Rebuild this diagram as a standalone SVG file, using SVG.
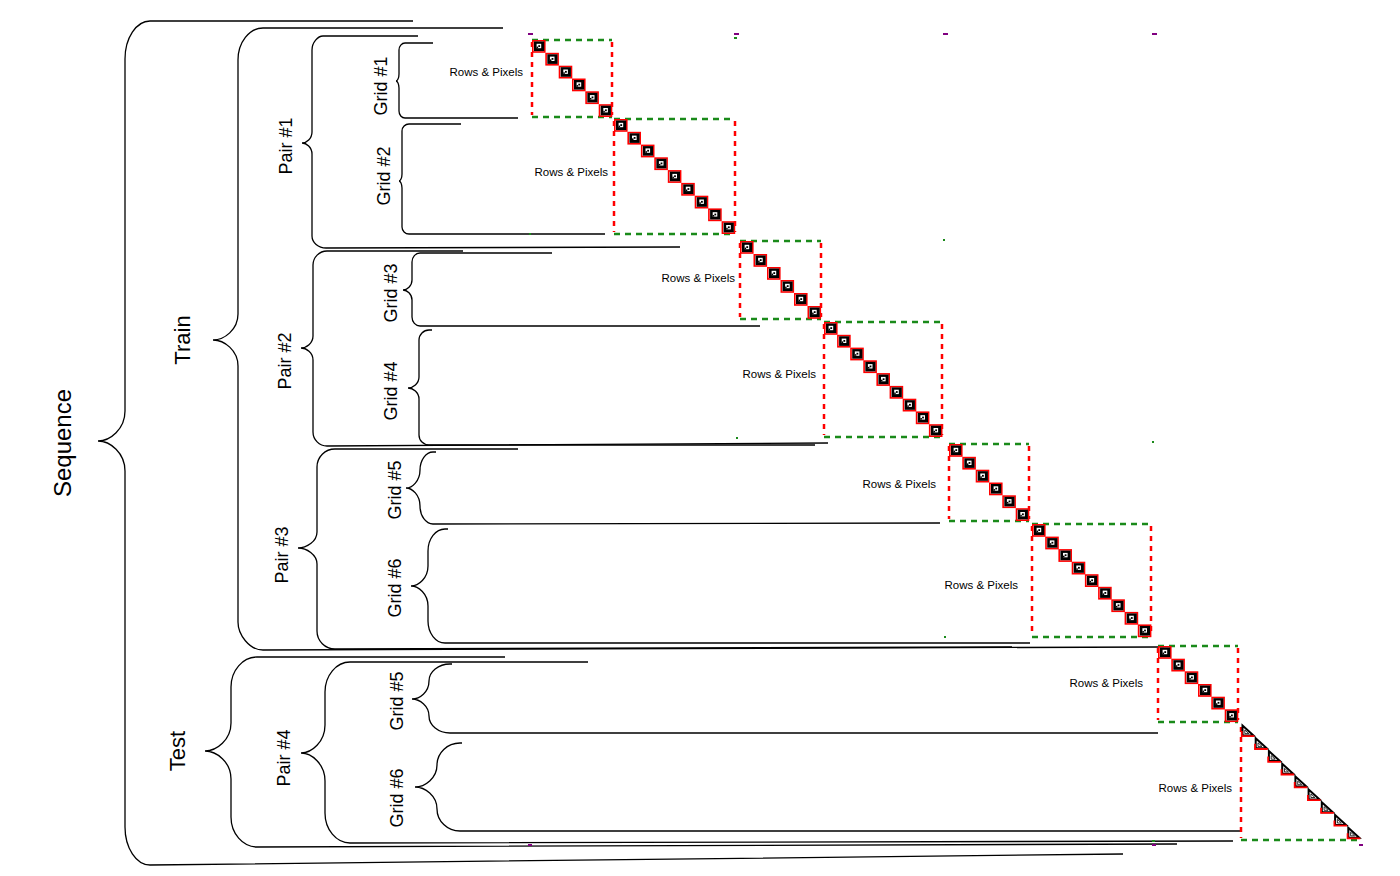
<svg xmlns="http://www.w3.org/2000/svg" xmlns:xlink="http://www.w3.org/1999/xlink" width="1400" height="876" viewBox="0 0 1400 876">
<style>
.br{fill:none;stroke:#000;stroke-width:1.3}
.lab{font-family:"Liberation Sans",Arial,sans-serif;fill:#000;text-anchor:middle}
.rp{font-family:"Liberation Sans",Arial,sans-serif;font-size:11.5px;fill:#000;text-anchor:end}
.gd{stroke:#1a8a1a;stroke-width:2.5;stroke-dasharray:6 5;fill:none}
.rd{stroke:#f00;stroke-width:2.5;stroke-dasharray:5 5;fill:none}
.pm{fill:#800080}
.gm{fill:#1a8a1a}
</style>
<defs>
<g id="c">
<rect x="0.8" y="0.8" width="12" height="11.2" fill="none" stroke="#f00" stroke-width="1.6"/>
<rect x="2" y="1.5" width="10.2" height="9.6" fill="#000"/>
<rect x="4.6" y="3.8" width="4.6" height="4.4" fill="#fff"/>
<rect x="6.3" y="5.2" width="1.8" height="1.8" fill="#000"/>
<rect x="4.6" y="6.6" width="1.5" height="1.6" fill="#000"/>
</g>
<g id="t">
<polygon points="1.5,0.5 1.5,10.5 12.5,10.5" fill="#fff" stroke="#000" stroke-width="2"/>
<polygon points="3.8,5 3.8,8.6 7.8,8.6" fill="#fff" stroke="#000" stroke-width="0.8"/>
<path d="M0.8 6 L0.8 11.2 L13.5 11.2" fill="none" stroke="#f00" stroke-width="1.8"/>
</g>
</defs>
<rect width="1400" height="876" fill="#fff"/>

<g id="connectors">
<path id="b-seq" class="br" d="M413,21 L150,21 C136.25,21 125,38.1 125,59 L125,411 C125,429 110.2,441 98,441 C110.2,441 125,453 125,471 L125,827 C125,847.9 136.25,865 150,865 L1123,854"/>
<path id="b-train" class="br" d="M503,28 L263,28 C249.25,28 238,42.4 238,60 L238,314 C238,329.6 224.25,340 213,340 C224.25,340 238,350.4 238,366 L238,622 C238,634.6 249.25,650 263,650 L1158,647"/>
<path id="b-p1" class="br" d="M418,36 L323,36 C317.95,36 312,42.3 312,50 L312,132 C312,138.6 306.5,143 302,143 C306.5,143 312,147.4 312,154 L312,236 C312,242.6 318.3,248 326,248 L680,247"/>
<path id="b-g1" class="br" d="M433,43 L405,43 C401.7,43 399,46.2 399,50 L399,74 C399,78.2 397.35,81 396,81 C397.35,81 399,83.8 399,88 L399,111 C399,114.9 401.7,118 405,118 L518,118"/>
<path id="b-g2" class="br" d="M461,124 L409,124 C405.2,124 402,127.2 402,131 L402,174 C402,178.2 400.35,181 399,181 C400.35,181 402,183.8 402,188 L402,227 C402,230.9 405.2,234 409,234 L605,234"/>
<path id="b-p2" class="br" d="M463,251 L327,251 C319.3,251 313,257.3 313,265 L313,336 C313,343.2 306.4,348 301,348 C306.4,348 313,352.8 313,360 L313,432 C313,439.7 319.3,446 327,446 L828,443"/>
<path id="b-g3" class="br" d="M552,253 L420,253 C415.6,253 412,257 412,262 L412,280 C412,286 407,290 403,290 C407,290 412,294 412,300 L412,317 C412,322 415.6,326 420,326 L760,326"/>
<path id="b-g4" class="br" d="M432,330 L429,330 C423.5,330 419,334.5 419,340 L419,377 C419,383.6 413,388 408,388 C413,388 419,392.4 419,399 L419,435 C419,440.5 423.5,445 429,445 L815,445"/>
<path id="b-p3" class="br" d="M518,449 L335,449 C325.1,449 317,457.1 317,467 L317,532 C317,541.6 306.55,548 298,548 C306.55,548 317,554.4 317,564 L317,631 C317,640.9 325.1,649 335,649 L1012,647"/>
<path id="b-g5" class="br" d="M436,452 L433,452 C425.85,452 420,460.1 420,470 C420,480.8 412.3,488 406,488 C412.3,488 420,495.2 420,506 C420,515.9 425.85,524 433,524 L940,523"/>
<path id="b-g6" class="br" d="M448,529 L445,529 C435.65,529 428,538.9 428,551 L428,566 C428,578 418.65,586 411,586 C418.65,586 428,594 428,606 L428,621 C428,633.1 435.65,643 445,643 L1030,643"/>
<path id="b-test" class="br" d="M505,657 L257,657 C242.7,657 231,670.5 231,687 L231,723 C231,739.8 216.7,751 205,751 C216.7,751 231,762.2 231,779 L231,817 C231,833.5 242.7,847 257,847 L1177,844"/>
<path id="b-p4" class="br" d="M588,662 L350,662 C336.25,662 325,675.5 325,692 L325,725 C325,741.8 311.8,753 301,753 C311.8,753 325,764.2 325,781 L325,813 C325,829.5 336.25,843 350,843 L1233,841"/>
<path id="b-tg5" class="br" d="M452,664 L450,664 C438.45,664 429,671.65 429,681 C429,692.2 419.65,699 412,699 C419.65,699 429,705.8 429,716 C429,725.35 438.45,733 450,733 L1158,733"/>
<path id="b-tg6" class="br" d="M462,743 L460,743 C447.35,743 437,752.9 437,765 C437,778.2 424.9,787 415,787 C424.9,787 437,795.8 437,809 C437,821.1 447.35,831 460,831 L1240,831"/>
</g>

<g id="labels">
<text class="lab" font-size="24" transform="translate(71,443) rotate(-90)">Sequence</text>
<text class="lab" font-size="22" transform="translate(190,340) rotate(-90)">Train</text>
<text class="lab" font-size="22" transform="translate(185,751) rotate(-90)">Test</text>
<text class="lab" font-size="18" transform="translate(292,146) rotate(-90)">Pair #1</text>
<text class="lab" font-size="18" transform="translate(291,361) rotate(-90)">Pair #2</text>
<text class="lab" font-size="18" transform="translate(288,555) rotate(-90)">Pair #3</text>
<text class="lab" font-size="18" transform="translate(290,758) rotate(-90)">Pair #4</text>
<text class="lab" font-size="18" transform="translate(387,86) rotate(-90)">Grid #1</text>
<text class="lab" font-size="18" transform="translate(390,176) rotate(-90)">Grid #2</text>
<text class="lab" font-size="18" transform="translate(397,293) rotate(-90)">Grid #3</text>
<text class="lab" font-size="18" transform="translate(397,391) rotate(-90)">Grid #4</text>
<text class="lab" font-size="18" transform="translate(401,490) rotate(-90)">Grid #5</text>
<text class="lab" font-size="18" transform="translate(401,588) rotate(-90)">Grid #6</text>
<text class="lab" font-size="18" transform="translate(403,701) rotate(-90)">Grid #5</text>
<text class="lab" font-size="18" transform="translate(403,798) rotate(-90)">Grid #6</text>
</g>

<g id="marks">
<rect class="pm" x="528" y="33" width="5" height="2"/>
<rect class="pm" x="734" y="33" width="5" height="2"/>
<rect class="pm" x="943" y="33" width="5" height="2"/>
<rect class="pm" x="1152" y="33" width="5" height="2"/>
<rect class="pm" x="528" y="844" width="4" height="2"/>
<rect class="pm" x="1152" y="844" width="4" height="2"/>
<rect class="pm" x="1359" y="844" width="4" height="2"/>
<rect class="gm" x="734" y="37" width="3" height="2"/>
<rect class="gm" x="943" y="239" width="2" height="2"/>
<rect class="gm" x="736" y="437" width="2" height="2"/>
<rect class="gm" x="1152" y="441" width="2" height="2"/>
<rect class="gm" x="944" y="636" width="2" height="2"/>
<rect class="gm" x="529" y="233" width="2" height="2"/>
<rect class="gm" x="1152" y="840" width="3" height="2"/>
</g>

<g id="grid1">
<path class="gd" d="M532,40 H612 M532,117 H612"/>
<path class="rd" d="M532,42 V115 M612,42 V115"/>
<use href="#c" x="532" y="40"/><use href="#c" x="545.3" y="52.8"/><use href="#c" x="558.7" y="65.7"/><use href="#c" x="572" y="78.5"/><use href="#c" x="585.3" y="91.3"/><use href="#c" x="598.7" y="104.2"/>
<text class="rp" x="523" y="76">Rows &amp; Pixels</text>
</g>
<g id="grid2">
<path class="gd" d="M614,119 H735 M614,234 H735"/>
<path class="rd" d="M614,121 V232 M735,121 V232"/>
<use href="#c" x="614" y="119"/><use href="#c" x="627.4" y="131.8"/><use href="#c" x="640.9" y="144.6"/><use href="#c" x="654.3" y="157.3"/><use href="#c" x="667.8" y="170.1"/><use href="#c" x="681.2" y="182.9"/><use href="#c" x="694.7" y="195.7"/><use href="#c" x="708.1" y="208.4"/><use href="#c" x="721.6" y="221.2"/>
<text class="rp" x="608" y="176">Rows &amp; Pixels</text>
</g>
<g id="grid3">
<path class="gd" d="M740,241 H821 M740,319 H821"/>
<path class="rd" d="M740,243 V317 M821,243 V317"/>
<use href="#c" x="740" y="241"/><use href="#c" x="753.5" y="254"/><use href="#c" x="767" y="267"/><use href="#c" x="780.5" y="280"/><use href="#c" x="794" y="293"/><use href="#c" x="807.5" y="306"/>
<text class="rp" x="735" y="282">Rows &amp; Pixels</text>
</g>
<g id="grid4">
<path class="gd" d="M824,322 H942 M824,437 H942"/>
<path class="rd" d="M824,324 V435 M942,324 V435"/>
<use href="#c" x="824" y="322"/><use href="#c" x="837.1" y="334.8"/><use href="#c" x="850.2" y="347.6"/><use href="#c" x="863.3" y="360.3"/><use href="#c" x="876.4" y="373.1"/><use href="#c" x="889.6" y="385.9"/><use href="#c" x="902.7" y="398.7"/><use href="#c" x="915.8" y="411.4"/><use href="#c" x="928.9" y="424.2"/>
<text class="rp" x="816" y="378">Rows &amp; Pixels</text>
</g>
<g id="grid5">
<path class="gd" d="M949,444 H1029 M949,521 H1029"/>
<path class="rd" d="M949,446 V519 M1029,446 V519"/>
<use href="#c" x="949" y="444"/><use href="#c" x="962.3" y="456.8"/><use href="#c" x="975.7" y="469.7"/><use href="#c" x="989" y="482.5"/><use href="#c" x="1002.3" y="495.3"/><use href="#c" x="1015.7" y="508.2"/>
<text class="rp" x="936" y="488">Rows &amp; Pixels</text>
</g>
<g id="grid6">
<path class="gd" d="M1032,524 H1151 M1032,637 H1151"/>
<path class="rd" d="M1032,526 V635 M1151,526 V635"/>
<use href="#c" x="1032" y="524"/><use href="#c" x="1045.2" y="536.6"/><use href="#c" x="1058.4" y="549.1"/><use href="#c" x="1071.7" y="561.7"/><use href="#c" x="1084.9" y="574.2"/><use href="#c" x="1098.1" y="586.8"/><use href="#c" x="1111.3" y="599.3"/><use href="#c" x="1124.6" y="611.9"/><use href="#c" x="1137.8" y="624.4"/>
<text class="rp" x="1018" y="589">Rows &amp; Pixels</text>
</g>
<g id="grid7">
<path class="gd" d="M1158,646 H1238 M1158,722 H1238"/>
<path class="rd" d="M1158,648 V720 M1238,648 V720"/>
<use href="#c" x="1158" y="646"/><use href="#c" x="1171.3" y="658.7"/><use href="#c" x="1184.7" y="671.3"/><use href="#c" x="1198" y="684"/><use href="#c" x="1211.3" y="696.7"/><use href="#c" x="1224.7" y="709.3"/>
<text class="rp" x="1143" y="687">Rows &amp; Pixels</text>
</g>
<g id="grid8">
<path class="gd" d="M1241,840 H1360"/>
<path class="rd" d="M1241,727 V838"/>
<use href="#t" x="1241" y="725"/><use href="#t" x="1254.2" y="737.8"/><use href="#t" x="1267.4" y="750.6"/><use href="#t" x="1280.7" y="763.3"/><use href="#t" x="1293.9" y="776.1"/><use href="#t" x="1307.1" y="788.9"/><use href="#t" x="1320.3" y="801.7"/><use href="#t" x="1333.6" y="814.4"/><use href="#t" x="1346.8" y="827.2"/>
<text class="rp" x="1232" y="792">Rows &amp; Pixels</text>
</g>
</svg>
